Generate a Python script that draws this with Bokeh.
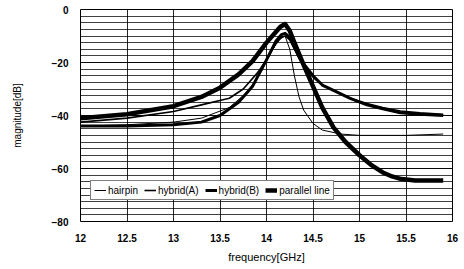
from bokeh.plotting import figure
from bokeh.models import FixedTicker, Legend, LegendItem, Range1d
from bokeh.embed import file_html
from bokeh.resources import INLINE

# ---- data ----
x_ticks = [12, 12.5, 13, 13.5, 14, 14.5, 15, 15.5, 16]
y_ticks = [0, -20, -40, -60, -80]

hairpin_f = [12, 12.5, 13, 13.3, 13.6, 13.8, 13.95, 14.05, 14.13, 14.2, 14.25, 14.3, 14.35, 14.4, 14.5, 14.6, 14.8, 15, 15.5, 15.9]
hairpin_m = [-44, -43.5, -42.5, -41, -37, -31, -23, -16, -11.5, -10, -15, -25, -33, -38, -43, -45.5, -47, -47.5, -47.5, -47]

hybA_f = [12, 12.5, 13, 13.3, 13.6, 13.75, 13.9, 14.0, 14.1, 14.16, 14.2, 14.25, 14.3, 14.35, 14.4, 14.5, 14.6, 14.72, 14.9, 15.08, 15.25, 15.44, 15.65, 15.9]
hybA_m = [-42.5, -41, -38.5, -36, -33.5, -30, -24, -19, -13, -10.5, -10, -11.5, -15, -18.5, -21.5, -25.5, -28.5, -30.5, -33.5, -35.5, -37, -38.3, -39, -39.5]

hybB_f = [12, 12.5, 13, 13.3, 13.5, 13.7, 13.85, 14.0, 14.1, 14.16, 14.2, 14.25, 14.3, 14.35, 14.4, 14.5, 14.6, 14.72, 14.9, 15.08, 15.25, 15.44, 15.65, 15.9]
hybB_m = [-44, -44, -43.5, -42.5, -40, -35, -29, -19, -12, -9.5, -9, -10.5, -14, -17.5, -20.5, -25, -28.5, -30.5, -33.5, -36, -37.5, -39, -39.5, -40]

par_f = [12, 12.5, 13, 13.3, 13.5, 13.7, 13.85, 14.0, 14.1, 14.15, 14.2, 14.25, 14.3, 14.4, 14.5, 14.6, 14.72, 14.85, 15.0, 15.12, 15.25, 15.35, 15.45, 15.6, 15.75, 15.9]
par_m = [-41, -39.5, -36.5, -33, -29.5, -24.5, -19.5, -12.5, -8.5, -6.5, -5.5, -8, -12.5, -21, -29, -37, -44.5, -50, -55, -58.5, -61.5, -63, -64, -64.5, -64.5, -64.5]

FONT = "Liberation Sans"

p = figure(width=460, height=265, output_backend="svg", toolbar_location=None,
           x_range=Range1d(12, 16), y_range=Range1d(-80, 0),
           min_border_left=80, min_border_right=8, min_border_top=9, min_border_bottom=36)
p.background_fill_color = "white"
p.border_fill_color = "white"
p.outline_line_color = "black"
p.outline_line_width = 1

p.xaxis.ticker = FixedTicker(ticks=x_ticks)
p.xaxis.major_label_overrides = {t: ("%g" % t) for t in x_ticks}
yt = FixedTicker(ticks=y_ticks, minor_ticks=[v * 2.5 - 80 for v in range(33)])
p.yaxis.ticker = yt
p.yaxis.major_label_overrides = {t: (("\u2212%d" % -t) if t < 0 else "0") for t in y_ticks}

for ax in (p.xaxis[0], p.yaxis[0]):
    ax.major_label_text_font = FONT
    ax.major_label_text_font_size = "10px"
    ax.major_label_text_font_style = "bold"
    ax.major_label_text_color = "black"
    ax.axis_line_color = None
    ax.major_tick_line_color = None
    ax.minor_tick_line_color = None
    ax.major_label_standoff = 6
    ax.axis_label_text_color = "black"

p.yaxis.axis_label = "magnitude[dB]"
p.yaxis.axis_label_text_font = FONT
p.yaxis.axis_label_text_font_size = "10px"
p.yaxis.axis_label_text_font_style = "normal"
p.yaxis.axis_label_standoff = 26

p.xaxis.axis_label = "frequency[GHz]"
p.xaxis.axis_label_text_font = FONT
p.xaxis.axis_label_text_font_size = "11px"
p.xaxis.axis_label_text_font_style = "normal"
p.xaxis.axis_label_standoff = 6

p.xgrid.grid_line_color = "black"
p.xgrid.grid_line_alpha = 0.85
p.xgrid.grid_line_width = 1
p.ygrid.grid_line_color = "black"
p.ygrid.grid_line_alpha = 0.9
p.ygrid.grid_line_width = 1
p.ygrid.minor_grid_line_color = "black"
p.ygrid.minor_grid_line_alpha = 0.75
p.ygrid.minor_grid_line_width = 1

r1 = p.line(hairpin_f, hairpin_m, line_color="black", line_width=1, line_join="round")
r2 = p.line(hybA_f, hybA_m, line_color="black", line_width=1.6, line_join="round")
r3 = p.line(hybB_f, hybB_m, line_color="black", line_width=3, line_join="round")
r4 = p.line(par_f, par_m, line_color="black", line_width=4.5, line_join="round")

legend = Legend(items=[LegendItem(label="hairpin", renderers=[r1]),
                       LegendItem(label="hybrid(A)", renderers=[r2]),
                       LegendItem(label="hybrid(B)", renderers=[r3]),
                       LegendItem(label="parallel line", renderers=[r4])],
                orientation="horizontal", location=(10, 21))
legend.label_text_font = FONT
legend.label_text_font_size = "10px"
legend.label_text_color = "black"
legend.label_height = 12
legend.glyph_width = 12
legend.glyph_height = 12
legend.spacing = 6
legend.padding = 3
legend.margin = 0
legend.label_standoff = 2
legend.border_line_color = "black"
legend.border_line_width = 1
legend.background_fill_color = "white"
legend.background_fill_alpha = 1
p.add_layout(legend, "center")

open("out.html", "w").write(file_html(p, INLINE))
